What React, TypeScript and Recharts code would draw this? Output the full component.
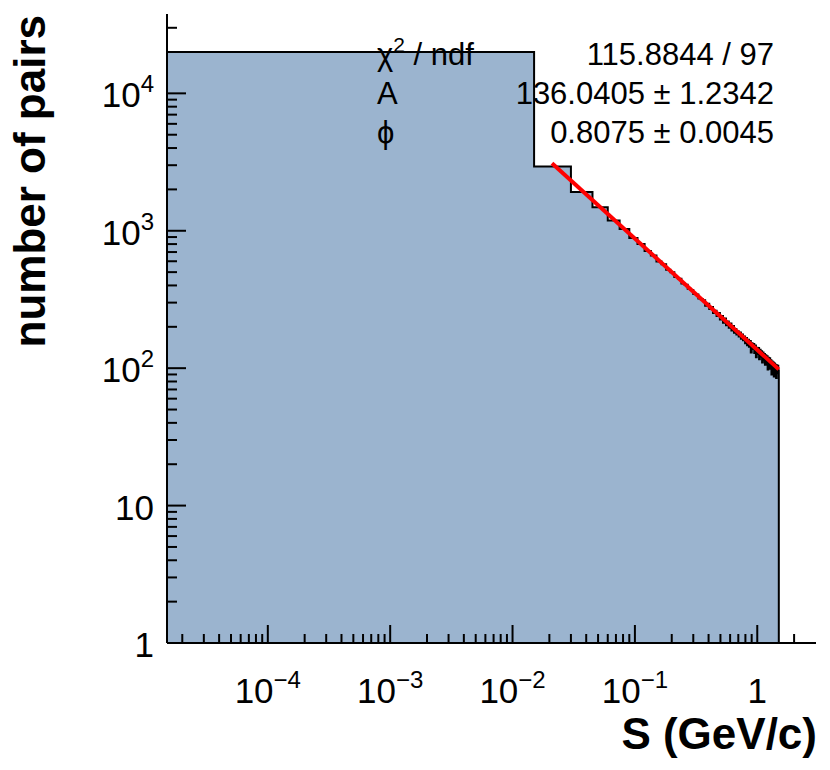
import React from 'react';
import {
  ComposedChart,
  Area,
  Line,
  XAxis,
  YAxis,
} from 'recharts';

const FONT = '"Liberation Sans", Arial, Helvetica, sans-serif';

// histogram: 100 bins of 0.015 GeV/c from 0 to 1.5
const binWidth = 0.015;
const counts = [
  20000, 2930, 1915, 1480, 1190, 1030, 884, 800, 712, 662,
  598, 570, 520, 498, 460, 447, 414, 405, 379, 371,
  347, 344, 322, 318, 312, 285, 294, 270, 279, 252,
  262, 240, 252, 226, 240, 214, 230, 205, 219, 197,
  211, 188, 203, 181, 193, 176, 186, 170, 182, 164,
  176, 160, 170, 152, 166, 147, 161, 143, 158, 130,
  152, 138, 150, 129, 146, 120, 141, 127, 140, 116,
  136, 121, 133, 110, 130, 114, 127, 106, 124, 111,
  122, 98, 119, 106, 118, 99, 114, 90, 112, 97,
  110, 87, 108, 95, 106, 85, 105, 92, 104, 96,
];

// power-law fit, ends of the fit range
const fitX = [0.021, 1.5];
const fitY = [3100, 98];

const statNames = ['χ', 'A', 'ϕ'];
const statValues = ['115.8844 / 97', '136.0405 ± 1.2342', '0.8075 ± 0.0045'];

const xMin = 1.5e-5;
const xMax = 3.02;
const yMin = 1;
const yMax = 37800;

const xMajor = [1e-4, 1e-3, 1e-2, 1e-1, 1];
const xLabels = [['10', '−4'], ['10', '−3'], ['10', '−2'], ['10', '−1'], ['1', '']];
const yMajor = [1, 10, 100, 1000, 10000];
const yLabels = [['1', ''], ['10', ''], ['10', '2'], ['10', '3'], ['10', '4']];

const minorTicks = (lo: number, hi: number, d0: number, d1: number) => {
  const out: number[] = [];
  for (let d = d0; d <= d1; d++) {
    for (let m = 2; m <= 9; m++) {
      const v = m * Math.pow(10, d);
      if (v > lo && v < hi) out.push(v);
    }
  }
  return out;
};

const xTicks = [...xMajor, ...minorTicks(xMin, 2.5, -5, 0)].sort((a, b) => a - b);
const yTicks = [...yMajor, ...minorTicks(yMin, yMax, 0, 4)].sort((a, b) => a - b);

const histData = counts.map((c, i) => ({ x: i === 0 ? xMin : i * binWidth, count: c }));
histData.push({ x: counts.length * binWidth, count: yMin });

const fitData = fitX.map((x, i) => ({ x, fit: fitY[i] }));

const XTick = (props: any) => {
  const { x, y, payload } = props;
  const idx = xMajor.indexOf(payload.value);
  const len = idx >= 0 ? 18 : 9;
  return (
    <g>
      <line x1={x} x2={x} y1={y} y2={y - len} stroke="#000" strokeWidth={2} />
      {idx >= 0 && (
        <text x={x} y={y + 60} textAnchor="middle" fontSize={35} fontFamily={FONT} fill="#000">
          {xLabels[idx][0]}
          {xLabels[idx][1] && (
            <tspan dy={-15} fontSize={24}>
              {xLabels[idx][1]}
            </tspan>
          )}
        </text>
      )}
    </g>
  );
};

const YTick = (props: any) => {
  const { x, y, payload } = props;
  const idx = yMajor.indexOf(payload.value);
  const len = idx >= 0 ? 19 : 10;
  return (
    <g>
      <line x1={x} x2={x + len} y1={y} y2={y} stroke="#000" strokeWidth={2} />
      {idx >= 0 && (
        <text x={x - 13} y={y + 14} textAnchor="end" fontSize={35} fontFamily={FONT} fill="#000">
          {yLabels[idx][0]}
          {yLabels[idx][1] && (
            <tspan dy={-15} fontSize={24}>
              {yLabels[idx][1]}
            </tspan>
          )}
        </text>
      )}
    </g>
  );
};

// titles and fit box, drawn above the plot
const Annotations = () => (
  <svg
    width={830}
    height={770}
    style={{ position: 'absolute', left: 0, top: 0, pointerEvents: 'none' }}
  >
    <g fontFamily={FONT} fill="#000">
      <text x={45} y={15} transform="rotate(-90 45 15)" textAnchor="end" fontSize={44} fontWeight="bold">
        number of pairs
      </text>
      <text x={817} y={749} textAnchor="end" fontSize={44} fontWeight="bold">
        S (GeV/c)
      </text>
      {statNames.map((n, i) => (
        <text key={n} x={377} y={65 + i * 39} fontSize={31}>
          {n}
          {i === 0 && (
            <>
              <tspan dy={-13} fontSize={21}>2</tspan>
              <tspan dy={13}> / ndf</tspan>
            </>
          )}
        </text>
      ))}
      {statValues.map((v, i) => (
        <text key={v} x={774} y={65 + i * 39} fontSize={31} textAnchor="end">
          {v}
        </text>
      ))}
    </g>
  </svg>
);

export default function App() {
  return (
    <div style={{ position: 'absolute', left: 0, top: 0, width: 830, height: 770, background: '#fff' }}>
      <ComposedChart
        width={830}
        height={770}
        data={histData}
        margin={{ top: 14, right: 14, bottom: 0, left: 0 }}
      >
        <Area
          type="stepAfter"
          dataKey="count"
          baseValue={yMin}
          fill="#9bb4cf"
          fillOpacity={1}
          stroke="#000"
          strokeWidth={2}
          isAnimationActive={false}
          dot={false}
          activeDot={false}
        />
        <Line
          data={fitData}
          dataKey="fit"
          type="linear"
          stroke="#ff0000"
          strokeWidth={4}
          dot={false}
          activeDot={false}
          isAnimationActive={false}
        />
        <XAxis
          dataKey="x"
          type="number"
          scale="log"
          domain={[xMin, xMax]}
          allowDataOverflow
          ticks={xTicks}
          interval={0}
          tick={<XTick />}
          tickSize={0}
          tickMargin={0}
          tickLine={false}
          axisLine={{ stroke: '#000', strokeWidth: 2 }}
          height={127}
        />
        <YAxis
          type="number"
          scale="log"
          domain={[yMin, yMax]}
          allowDataOverflow
          ticks={yTicks}
          interval={0}
          tick={<YTick />}
          tickSize={0}
          tickMargin={0}
          tickLine={false}
          axisLine={{ stroke: '#000', strokeWidth: 2 }}
          width={167}
        />
        <XAxis
          xAxisId="top"
          orientation="top"
          type="number"
          scale="log"
          domain={[xMin, xMax]}
          allowDataOverflow
          tick={false}
          tickLine={false}
          axisLine={{ stroke: '#000', strokeWidth: 2 }}
          height={0}
        />
        <YAxis
          yAxisId="right"
          orientation="right"
          type="number"
          scale="log"
          domain={[yMin, yMax]}
          allowDataOverflow
          tick={false}
          tickLine={false}
          axisLine={{ stroke: '#000', strokeWidth: 2 }}
          width={0}
        />
      </ComposedChart>
      <Annotations />
    </div>
  );
}
